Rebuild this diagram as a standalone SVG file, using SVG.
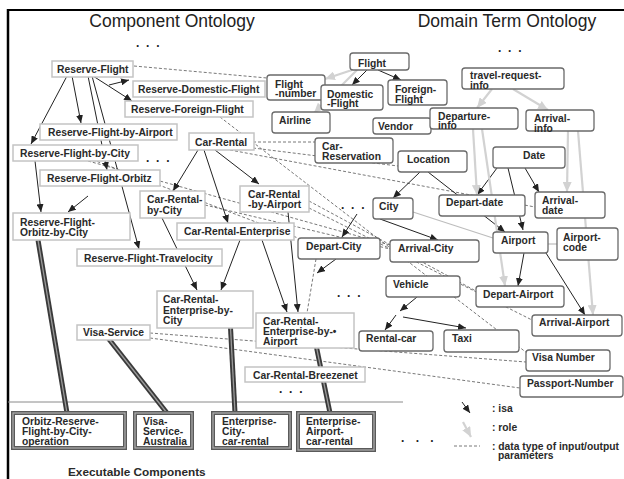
<svg xmlns="http://www.w3.org/2000/svg" width="624" height="479" viewBox="0 0 624 479">
<style>
.t{font-family:"Liberation Sans",Arial,sans-serif;font-weight:bold;font-size:10.3px;fill:#2a2a2a}
.ttl{font-family:"Liberation Sans",Arial,sans-serif;font-size:17.5px;fill:#222}
.dots{font-family:"Liberation Sans",Arial,sans-serif;font-weight:bold;font-size:12px;fill:#222;letter-spacing:1.7px}
.cn{fill:#fff;stroke:#c4c4c4;stroke-width:1.5}
.dn{fill:#fff;stroke:#6a6a6a;stroke-width:1.3}
.ex{fill:#fff;stroke:#5a5a5a;stroke-width:4}
.exi{fill:none;stroke:#b0b0b0;stroke-width:1.2}
.isa{stroke:#222;stroke-width:1;fill:none;marker-end:url(#ah)}
.role{stroke:#d2d2d2;stroke-width:2.2;fill:none;marker-end:url(#rh)}
.assoc{stroke:#bdbdbd;stroke-width:1.2;fill:none}
.dash{stroke:#555;stroke-width:0.8;fill:none;stroke-dasharray:3,2}
.thk{stroke:#3a3a3a;stroke-width:5;fill:none}
.thki{stroke:#9a9a9a;stroke-width:1.3;fill:none}
</style>
<defs>
<marker id="ah" markerUnits="userSpaceOnUse" markerWidth="8" markerHeight="7" refX="8" refY="3.5" orient="auto"><path d="M0,0 L8,3.5 L0,7 z" fill="#222"/></marker>
<marker id="rh" markerUnits="userSpaceOnUse" markerWidth="10" markerHeight="9" refX="10" refY="4.5" orient="auto"><path d="M0,0 L10,4.5 L0,9 z" fill="#d2d2d2"/></marker>
</defs>
<rect x="0" y="0" width="624" height="479" fill="#fff"/>
<g id="frame">
<line x1="7" y1="10" x2="624" y2="10" stroke="#000" stroke-width="2"/>
<line x1="8" y1="9" x2="8" y2="479" stroke="#000" stroke-width="2.5"/>
<line x1="8" y1="402" x2="403" y2="402" stroke="#8a8a8a" stroke-width="1"/>
</g>
<g id="titles">
<text class="ttl" x="172" y="27" text-anchor="middle">Component Ontology</text>
<text class="ttl" x="507" y="27" text-anchor="middle">Domain Term Ontology</text>
<text class="dots" x="136" y="47">. . .</text>
<text class="dots" x="498" y="52">. . .</text>
<text class="dots" x="146" y="162">. . .</text>
<text class="dots" x="341" y="209">. . .</text>
<text class="dots" x="337" y="297">. . .</text>
<text class="dots" x="279" y="393">. . .</text>
<text class="dots" x="401" y="442" style="letter-spacing:4px">. . .</text>
<text class="t" x="68" y="476" style="font-size:11.8px">Executable Components</text>
</g>
<g id="connectors">
<line class="dash" x1="134" y1="66" x2="267" y2="78"/>
<line class="dash" x1="220" y1="117" x2="527" y2="353"/>
<line class="dash" x1="253" y1="142" x2="315" y2="142"/>
<line class="dash" x1="253" y1="148" x2="398" y2="166"/>
<line class="dash" x1="230" y1="150" x2="535" y2="207"/>
<line class="dash" x1="88" y1="158" x2="298" y2="238"/>
<line class="dash" x1="88" y1="161" x2="390" y2="245"/>
<line class="dash" x1="205" y1="205" x2="390" y2="249"/>
<line class="dash" x1="309" y1="201" x2="476" y2="291"/>
<line class="dash" x1="309" y1="208" x2="532" y2="320"/>
<line class="dash" x1="150" y1="333" x2="526" y2="362"/>
<line class="dash" x1="150" y1="338" x2="520" y2="388"/>
<line class="dash" x1="316" y1="259" x2="307" y2="313"/>
<line class="assoc" x1="413" y1="212" x2="493" y2="238"/>
<line class="assoc" x1="548" y1="244" x2="557" y2="244"/>
<line class="isa" x1="93" y1="76" x2="132" y2="101"/>
<line class="isa" x1="109" y1="85" x2="129" y2="80"/>
<line class="isa" x1="72" y1="76" x2="81" y2="123"/>
<line class="isa" x1="67" y1="76" x2="31" y2="144"/>
<line class="isa" x1="88" y1="76" x2="107" y2="170"/>
<line class="isa" x1="92" y1="76" x2="139" y2="249"/>
<line class="isa" x1="35" y1="161" x2="41" y2="212"/>
<line class="isa" x1="88" y1="196" x2="68" y2="212"/>
<line class="isa" x1="198" y1="150" x2="173" y2="191"/>
<line class="isa" x1="215" y1="150" x2="259" y2="184"/>
<line class="isa" x1="204" y1="150" x2="228" y2="223"/>
<line class="isa" x1="162" y1="218" x2="197" y2="290"/>
<line class="isa" x1="240" y1="240" x2="221" y2="290"/>
<line class="isa" x1="262" y1="240" x2="287" y2="312"/>
<line class="isa" x1="288" y1="212" x2="298" y2="312"/>
<line class="isa" x1="357" y1="214" x2="342" y2="237"/>
<line class="isa" x1="336" y1="259" x2="317" y2="273"/>
<line class="isa" x1="417" y1="297" x2="400" y2="311"/>
<line class="isa" x1="396" y1="315" x2="385" y2="330"/>
<line class="isa" x1="403" y1="317" x2="466" y2="328"/>
<line class="isa" x1="367" y1="70" x2="352" y2="85"/>
<line class="isa" x1="378" y1="70" x2="401" y2="80"/>
<line class="isa" x1="420" y1="172" x2="393" y2="198"/>
<line class="isa" x1="428" y1="172" x2="505" y2="232"/>
<line class="isa" x1="380" y1="219" x2="438" y2="240"/>
<line class="isa" x1="497" y1="168" x2="477" y2="195"/>
<line class="isa" x1="508" y1="168" x2="523" y2="230"/>
<line class="isa" x1="525" y1="168" x2="539" y2="192"/>
<line class="isa" x1="524" y1="253" x2="518" y2="286"/>
<line class="isa" x1="546" y1="253" x2="585" y2="315"/>
<line class="role" x1="352" y1="70" x2="325" y2="79"/>
<line class="role" x1="357" y1="70" x2="314" y2="113"/>
<line class="role" x1="492" y1="89" x2="477" y2="108"/>
<line class="role" x1="513" y1="89" x2="548" y2="110"/>
<line class="role" x1="473" y1="129" x2="477" y2="195"/>
<line class="role" x1="482" y1="129" x2="505" y2="286"/>
<line class="role" x1="568" y1="131" x2="567" y2="192"/>
<line class="role" x1="578" y1="131" x2="593" y2="315"/>
<line class="thk" x1="38" y1="240" x2="67" y2="413"/>
<line class="thki" x1="38" y1="240" x2="67" y2="413"/>
<line class="thk" x1="108" y1="338" x2="167" y2="413"/>
<line class="thki" x1="108" y1="338" x2="167" y2="413"/>
<line class="thk" x1="230" y1="318" x2="235" y2="413"/>
<line class="thki" x1="230" y1="318" x2="235" y2="413"/>
<line class="thk" x1="315" y1="340" x2="330" y2="413"/>
<line class="thki" x1="315" y1="340" x2="330" y2="413"/>
</g>
<g id="n-reserve-flight"><rect class="cn" x="52" y="61" width="81" height="16"/><text class="t" x="57" y="73">Reserve-Flight</text></g>
<g id="n-reserve-domestic-flight"><rect class="cn" x="133" y="81" width="132" height="16"/><text class="t" x="138" y="93">Reserve-Domestic-Flight</text></g>
<g id="n-reserve-foreign-flight"><rect class="cn" x="125" y="101" width="128" height="16"/><text class="t" x="131" y="113">Reserve-Foreign-Flight</text></g>
<g id="n-reserve-flight-by-airport"><rect class="cn" x="40" y="124" width="137" height="16"/><text class="t" x="48" y="136">Reserve-Flight-by-Airport</text></g>
<g id="n-car-rental"><rect class="cn" x="189" y="133" width="65" height="17"/><text class="t" x="195" y="146">Car-Rental</text></g>
<g id="n-reserve-flight-by-city"><rect class="cn" x="13" y="145" width="125" height="16"/><text class="t" x="20" y="157">Reserve-Flight-by-City</text></g>
<g id="n-reserve-flight-orbitz"><rect class="cn" x="40" y="170" width="120" height="16"/><text class="t" x="47" y="182">Reserve-Flight-Orbitz</text></g>
<g id="n-reserve-flight-orbitz-by-city"><rect class="cn" x="13" y="213" width="117" height="27"/><text class="t" x="20" y="225.5">Reserve-Flight-</text><text class="t" x="20" y="236">Orbitz-by-City</text></g>
<g id="n-car-rental-by-city"><rect class="cn" x="140" y="191" width="65" height="27"/><text class="t" x="147" y="203">Car-Rental-</text><text class="t" x="147" y="213.5">by-City</text></g>
<g id="n-car-rental-by-airport"><rect class="cn" x="240" y="186" width="69" height="26"/><text class="t" x="248" y="198">Car-Rental</text><text class="t" x="248" y="208">-by-Airport</text></g>
<g id="n-car-rental-enterprise"><rect class="cn" x="177" y="223" width="117" height="17"/><text class="t" x="184" y="235">Car-Rental-Enterprise</text></g>
<g id="n-reserve-flight-travelocity"><rect class="cn" x="77" y="249" width="145" height="17"/><text class="t" x="84" y="262">Reserve-Flight-Travelocity</text></g>
<g id="n-car-rental-enterprise-by-city"><rect class="cn" x="157" y="291" width="96" height="37"/><text class="t" x="163" y="303">Car-Rental-</text><text class="t" x="163" y="313.5">Enterprise-by-</text><text class="t" x="163" y="324">City</text></g>
<g id="n-car-rental-enterprise-by-airport"><rect class="cn" x="256" y="313" width="98" height="35"/><text class="t" x="263" y="324.5">Car-Rental-</text><text class="t" x="263" y="334.5">Enterprise-by-•</text><text class="t" x="263" y="344.5">Airport</text></g>
<g id="n-visa-service"><rect class="cn" x="77" y="325" width="73" height="15"/><text class="t" x="83" y="336">Visa-Service</text></g>
<g id="n-car-rental-breezenet"><rect class="cn" x="245" y="367" width="120" height="15"/><text class="t" x="253" y="378.5">Car-Rental-Breezenet</text></g>
<g id="x-orbitz"><rect class="ex" x="13" y="413" width="112" height="35"/><rect class="exi" x="13" y="413" width="112" height="35"/><text class="t" x="22" y="425">Orbitz-Reserve-</text><text class="t" x="22" y="435">Flight-by-City-</text><text class="t" x="22" y="445">operation</text></g>
<g id="x-visa"><rect class="ex" x="135" y="413" width="57" height="35"/><rect class="exi" x="135" y="413" width="57" height="35"/><text class="t" x="143" y="425">Visa-</text><text class="t" x="143" y="435">Service-</text><text class="t" x="143" y="445">Australia</text></g>
<g id="x-enterprise-city"><rect class="ex" x="213" y="413" width="77" height="35"/><rect class="exi" x="213" y="413" width="77" height="35"/><text class="t" x="222" y="425">Enterprise-</text><text class="t" x="222" y="435">City-</text><text class="t" x="222" y="445">car-rental</text></g>
<g id="x-enterprise-airport"><rect class="ex" x="298" y="413" width="76" height="37"/><rect class="exi" x="298" y="413" width="76" height="37"/><text class="t" x="306" y="425">Enterprise-</text><text class="t" x="306" y="435">Airport-</text><text class="t" x="306" y="445">car-rental</text></g>
<g id="d-flight"><rect class="dn" x="350" y="53" width="59" height="17" rx="3"/><text class="t" x="358" y="66.5">Flight</text></g>
<g id="d-flight-number"><rect class="dn" x="267" y="75" width="58" height="25" rx="3"/><text class="t" x="275" y="87.5">Flight</text><text class="t" x="275" y="97">-number</text></g>
<g id="d-domestic-flight"><rect class="dn" x="321" y="85" width="62" height="25" rx="3"/><text class="t" x="327" y="97.5">Domestic</text><text class="t" x="327" y="107">-Flight</text></g>
<g id="d-foreign-flight"><rect class="dn" x="388" y="80" width="59" height="25" rx="3"/><text class="t" x="395" y="92.5">Foreign-</text><text class="t" x="395" y="102.5">Flight</text></g>
<g id="d-airline"><rect class="dn" x="272" y="112" width="58" height="21" rx="3"/><text class="t" x="279" y="124">Airline</text></g>
<g id="d-vendor"><rect class="dn" x="373" y="118" width="58" height="16" rx="3"/><text class="t" x="378" y="129.5">Vendor</text></g>
<g id="d-departure-info"><rect class="dn" x="430" y="108" width="88" height="21" rx="3"/><text class="t" x="438" y="119.5">Departure-</text><text class="t" x="438" y="129">info</text></g>
<g id="d-travel-request-info"><rect class="dn" x="462" y="68" width="102" height="21" rx="3"/><text class="t" x="470" y="79">travel-request-</text><text class="t" x="470" y="89">info</text></g>
<g id="d-arrival-info"><rect class="dn" x="526" y="110" width="68" height="21" rx="3"/><text class="t" x="534" y="122">Arrival-</text><text class="t" x="534" y="131.5">info</text></g>
<g id="d-car-reservation"><rect class="dn" x="315" y="138" width="78" height="25" rx="3"/><text class="t" x="322" y="149.5">Car-</text><text class="t" x="322" y="159.5">Reservation</text></g>
<g id="d-location"><rect class="dn" x="398" y="151" width="69" height="21" rx="3"/><text class="t" x="407" y="163">Location</text></g>
<g id="d-date"><rect class="dn" x="493" y="147" width="72" height="21" rx="3"/><text class="t" x="523" y="158.5">Date</text></g>
<g id="d-city"><rect class="dn" x="373" y="198" width="40" height="21" rx="3"/><text class="t" x="379" y="210">City</text></g>
<g id="d-depart-date"><rect class="dn" x="439" y="195" width="86" height="21" rx="3"/><text class="t" x="446" y="206">Depart-date</text></g>
<g id="d-arrival-date"><rect class="dn" x="535" y="192" width="70" height="26" rx="3"/><text class="t" x="542" y="203.5">Arrival-</text><text class="t" x="542" y="213.5">date</text></g>
<g id="d-airport"><rect class="dn" x="493" y="232" width="55" height="21" rx="3"/><text class="t" x="501" y="243.5">Airport</text></g>
<g id="d-airport-code"><rect class="dn" x="557" y="228" width="61" height="32" rx="3"/><text class="t" x="563" y="240.5">Airport-</text><text class="t" x="563" y="250.5">code</text></g>
<g id="d-depart-city"><rect class="dn" x="298" y="238" width="82" height="21" rx="3"/><text class="t" x="306" y="250">Depart-City</text></g>
<g id="d-arrival-city"><rect class="dn" x="390" y="240" width="89" height="22" rx="3"/><text class="t" x="398" y="252">Arrival-City</text></g>
<g id="d-vehicle"><rect class="dn" x="386" y="276" width="74" height="21" rx="3"/><text class="t" x="393" y="287.5">Vehicle</text></g>
<g id="d-depart-airport"><rect class="dn" x="476" y="286" width="88" height="21" rx="3"/><text class="t" x="483" y="298">Depart-Airport</text></g>
<g id="d-arrival-airport"><rect class="dn" x="532" y="315" width="90" height="21" rx="3"/><text class="t" x="539" y="326">Arrival-Airport</text></g>
<g id="d-rental-car"><rect class="dn" x="359" y="331" width="74" height="20" rx="3"/><text class="t" x="366" y="342">Rental-car</text></g>
<g id="d-taxi"><rect class="dn" x="444" y="330" width="75" height="22" rx="3"/><text class="t" x="452" y="342">Taxi</text></g>
<g id="d-visa-number"><rect class="dn" x="526" y="350" width="84" height="21" rx="3"/><text class="t" x="532" y="361">Visa Number</text></g>
<g id="d-passport-number"><rect class="dn" x="520" y="376" width="103" height="21" rx="3"/><text class="t" x="527" y="387">Passport-Number</text></g>
<g id="legend">
<line class="isa" x1="462" y1="402" x2="470" y2="413"/>
<line class="role" x1="463" y1="422" x2="471" y2="437"/>
<line class="dash" x1="454" y1="446" x2="480" y2="446"/>
<text class="t" x="492" y="412">: isa</text>
<text class="t" x="492" y="431">: role</text>
<text class="t" x="492" y="449.5">: data type of input/output</text>
<text class="t" x="498" y="459">parameters</text>
</g>
</svg>
